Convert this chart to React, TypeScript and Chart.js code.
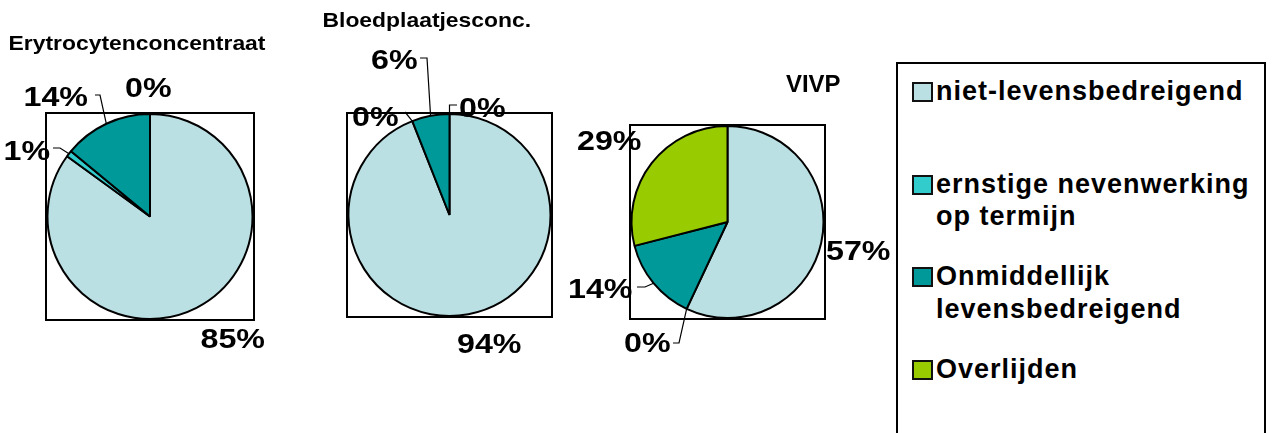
import React, { useEffect, useRef } from "react";
import { Chart, registerables } from "chart.js";

Chart.register(...registerables);

// ---------- data ----------
const CATEGORIES = [
  "niet-levensbedreigend",
  "ernstige nevenwerking op termijn",
  "Onmiddellijk levensbedreigend",
  "Overlijden",
];
const TITLES = ["Erytrocytenconcentraat", "Bloedplaatjesconc.", "VIVP"];
const ERY_VALUES = [85, 1, 14, 0];
const BLOED_VALUES = [94, 0, 6, 0];
const VIVP_VALUES = [57, 0, 14, 29];

// ---------- styles / layout ----------
const COLORS = ["#BBE0E3", "#33CCCC", "#009999", "#99CC00"];
const FONT = '"Liberation Sans", Arial, Helvetica, sans-serif';
const W = 1274;
const H = 433;

type Leader = { from: [number, number]; elbow?: [number, number] };
type LabelPos = { x: number; y: number; leader?: Leader };
type PieLayout = {
  frame: { left: number; top: number; right: number; bottom: number };
  title: { x: number; y: number; size: number; sx: number };
  labels: LabelPos[];
};

const LAYOUTS: PieLayout[] = [
  {
    frame: { left: 46, top: 113, right: 254, bottom: 320 },
    title: { x: 8.5, y: 50, size: 21, sx: 1.09 },
    labels: [
      { x: 200.5, y: 348 },
      { x: 3.5, y: 160, leader: { from: [53, 148], elbow: [60, 148] } },
      { x: 23.5, y: 106, leader: { from: [95, 95], elbow: [100, 95] } },
      { x: 125, y: 97 },
    ],
  },
  {
    frame: { left: 347, top: 113, right: 552, bottom: 317 },
    title: { x: 322.5, y: 27, size: 21, sx: 1.09 },
    labels: [
      { x: 457, y: 353 },
      { x: 352, y: 126, leader: { from: [405, 112] } },
      { x: 371, y: 69, leader: { from: [420, 58], elbow: [427, 58] } },
      { x: 459, y: 117, leader: { from: [457, 105], elbow: [449.5, 105] } },
    ],
  },
  {
    frame: { left: 630, top: 125, right: 825, bottom: 319 },
    title: { x: 786, y: 92, size: 23, sx: 1.04 },
    labels: [
      { x: 826, y: 260 },
      { x: 624, y: 352, leader: { from: [673, 343], elbow: [679, 343] } },
      { x: 568, y: 298, leader: { from: [637, 287], elbow: [645, 287] } },
      { x: 577, y: 150 },
    ],
  },
];

const LEGEND_BOX = { left: 896, top: 62, width: 370 };
const LEGEND_FIRST_TOP = 82;
const LEGEND_STEP = 92.6;

function drawText(
  ctx: CanvasRenderingContext2D,
  text: string,
  x: number,
  y: number,
  size: number,
  sx: number
) {
  ctx.save();
  ctx.font = `bold ${size}px ${FONT}`;
  ctx.textAlign = "left";
  ctx.textBaseline = "alphabetic";
  ctx.fillStyle = "#000";
  ctx.translate(x, y);
  ctx.scale(sx, 1);
  ctx.fillText(text, 0, 0);
  ctx.restore();
}

function makeOverlay(layout: PieLayout, title: string, values: number[]) {
  return {
    id: "pieOverlay",
    beforeDatasetsDraw(chart: any) {
      const { ctx, chartArea } = chart;
      ctx.save();
      ctx.strokeStyle = "#000";
      ctx.lineWidth = 2;
      ctx.strokeRect(
        chartArea.left,
        chartArea.top,
        chartArea.right - chartArea.left,
        chartArea.bottom - chartArea.top
      );
      ctx.restore();
    },
    afterDatasetsDraw(chart: any) {
      const { ctx } = chart;
      const meta = chart.getDatasetMeta(0);
      const total = values.reduce((a, b) => a + b, 0);
      // title
      drawText(ctx, title, layout.title.x, layout.title.y, layout.title.size, layout.title.sx);
      meta.data.forEach((arc: any, i: number) => {
        const p = arc.getProps(["x", "y", "startAngle", "endAngle", "outerRadius"], true);
        const mid = (p.startAngle + p.endAngle) / 2;
        const ax = p.x + Math.cos(mid) * p.outerRadius;
        const ay = p.y + Math.sin(mid) * p.outerRadius;
        const lab = layout.labels[i];
        if (!lab) return;
        if (lab.leader) {
          ctx.save();
          ctx.strokeStyle = "#000";
          ctx.lineWidth = 1.2;
          ctx.beginPath();
          ctx.moveTo(lab.leader.from[0], lab.leader.from[1]);
          if (lab.leader.elbow) ctx.lineTo(lab.leader.elbow[0], lab.leader.elbow[1]);
          ctx.lineTo(ax, ay);
          ctx.stroke();
          ctx.restore();
        }
        const pct = Math.round((values[i] / total) * 100) + "%";
        drawText(ctx, pct, lab.x, lab.y, 28, 1.15);
      });
    },
  };
}

function PieCanvas({ idx, values }: { idx: number; values: number[] }) {
  const ref = useRef<HTMLCanvasElement | null>(null);
  useEffect(() => {
    if (!ref.current) return;
    const layout = LAYOUTS[idx];
    const f = layout.frame;
    const chart = new Chart(ref.current, {
      type: "pie",
      data: {
        labels: CATEGORIES,
        datasets: [
          {
            data: values,
            backgroundColor: COLORS,
            borderColor: "#000",
            borderWidth: 2,
          },
        ],
      },
      options: {
        animation: false,
        responsive: false,
        maintainAspectRatio: false,
        devicePixelRatio: 1,
        events: [],
        layout: {
          padding: {
            left: f.left,
            top: f.top,
            right: W - f.right,
            bottom: H - f.bottom,
          },
        },
        plugins: {
          legend: { display: false },
          tooltip: { enabled: false },
          title: { display: false },
        },
      },
      plugins: [makeOverlay(layout, TITLES[idx], values)],
    } as any);
    return () => chart.destroy();
  }, [idx, values]);
  return (
    <canvas
      ref={ref}
      width={W}
      height={H}
      style={{ position: "absolute", left: 0, top: 0, width: W, height: H }}
    />
  );
}

export default function App() {
  const all = [ERY_VALUES, BLOED_VALUES, VIVP_VALUES];
  const inner = LEGEND_BOX.left + 2;
  return (
    <div
      style={{
        position: "absolute",
        left: 0,
        top: 0,
        width: W,
        height: H,
        overflow: "hidden",
        background: "#fff",
      }}
    >
      {all.map((v, i) => (
        <PieCanvas key={i} idx={i} values={v} />
      ))}
      <div
        style={{
          position: "absolute",
          left: LEGEND_BOX.left,
          top: LEGEND_BOX.top,
          width: LEGEND_BOX.width,
          height: 420,
          border: "2px solid #000",
          boxSizing: "border-box",
          background: "#fff",
        }}
      >
        {CATEGORIES.map((c, i) => {
          const sqTop = LEGEND_FIRST_TOP + i * LEGEND_STEP;
          return (
            <React.Fragment key={c}>
              <div
                style={{
                  position: "absolute",
                  left: 912 - inner,
                  top: sqTop - (LEGEND_BOX.top + 2),
                  width: 21,
                  height: 20,
                  boxSizing: "border-box",
                  border: "2px solid #111",
                  background: COLORS[i],
                }}
              />
              <div
                style={{
                  position: "absolute",
                  left: 936 - inner,
                  top: sqTop - 6.9 - (LEGEND_BOX.top + 2),
                  width: 326,
                  font: `bold 27px ${FONT}`,
                  letterSpacing: "1px",
                  lineHeight: "32.5px",
                  color: "#000",
                  whiteSpace: "normal",
                }}
              >
                {c}
              </div>
            </React.Fragment>
          );
        })}
      </div>
    </div>
  );
}
